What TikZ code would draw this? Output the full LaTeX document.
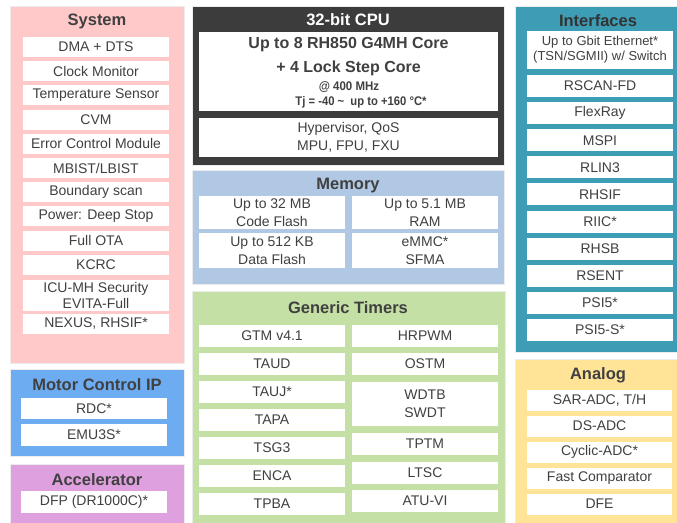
\documentclass[tikz,border=0pt]{standalone}
\usepackage{fontspec}
\setmainfont{Liberation Sans}
\usetikzlibrary{positioning}

\definecolor{syspink}{HTML}{FFC9C9}
\definecolor{motorblue}{HTML}{6EACF2}
\definecolor{accplum}{HTML}{DEA0DE}
\definecolor{cpudark}{HTML}{3C3C3C}
\definecolor{memblue}{HTML}{B0C8E4}
\definecolor{timgreen}{HTML}{C5E0A5}
\definecolor{ifteal}{HTML}{3C9DB5}
\definecolor{anayellow}{HTML}{FFE498}
\definecolor{txtgray}{HTML}{404040}

\tikzset{
  item/.style={fill=white, minimum width=146pt, minimum height=20pt, inner sep=0pt,
    align=center, text=txtgray, font=\fontsize{14}{18}\selectfont},
  paneltitle/.style={font=\fontsize{16.5}{18}\selectfont\bfseries, text=txtgray, inner sep=0pt},
  panel/.style={draw=gray!15, line width=0.6pt},
  cputext/.style={font=\fontsize{16}{18}\selectfont\bfseries, text=txtgray, inner sep=0pt},
  cpusmall/.style={font=\bfseries\fontsize{12.5}{14}\selectfont, text=txtgray, inner sep=0pt},
}

\begin{document}
\begin{tikzpicture}[x=1pt, y=-1pt]
    \useasboundingbox (0,0) rectangle (677,522);

    % System
    \draw[panel, fill=syspink] (10,6) rectangle (184,363);
    \node[paneltitle] (systitle) at (97,21) {System};
    \foreach \t [count=\i] in {DMA + DTS, Clock Monitor, Temperature Sensor, CVM,
        Error Control Module, MBIST/LBIST, Boundary scan, Power: Deep Stop, Full OTA, KCRC}
        \node[item] (sys\i) at (96,{47+24.2*(\i-1)}) {\t};
    \node[item, minimum height=31pt, font=\fontsize{14}{16}\selectfont] (sysicu) at (96,295.5) {ICU-MH Security\\EVITA-Full};
    \node[item] (sysnexus) at (96,324) {NEXUS, RHSIF*};

    % Motor Control IP
    \draw[panel, fill=motorblue] (10,369) rectangle (184,456);
    \node[paneltitle] (mottitle) at (97,385) {Motor Control IP};
    \node[item, minimum height=21pt] (motrdc) at (94,408.5) {RDC*};
    \node[item, minimum height=22pt] (motemu) at (94,435) {EMU3S*};

    % Accelerator
    \draw[panel, fill=accplum] (10,464) rectangle (184,525);
    \node[paneltitle] (acctitle) at (97,480) {Accelerator};
    \node[item, minimum height=22pt] (accdfp) at (94,502) {DFP (DR1000C)*};

    % 32-bit CPU
    \draw[panel, fill=cpudark] (192,6) rectangle (504,165);
    \node[paneltitle, text=white] (cputitle) at (348,20) {32-bit CPU};
    \node[item, minimum width=299pt, minimum height=79pt] (cpucore) at (348.5,71.5) {};
    \node[cputext] (cpuline1) at (348.5,45) {Up to 8 RH850 G4MH Core};
    \node[cputext] (cpuline2) at (348.5,68) {+ 4 Lock Step Core};
    \node[cpusmall] (cpufreq) at (349,87) {\scalebox{0.92}[1]{@ 400 MHz}};
    \node[cpusmall] (cputemp) at (361,102) {\scalebox{0.9}[1]{Tj = -40 \textasciitilde\ \ up to +160 °C*}};
    \node[item, minimum width=299pt, minimum height=39pt] (cpuext) at (348.5,137.5) {Hypervisor, QoS\\MPU, FPU, FXU};

    % Memory
    \draw[panel, fill=memblue] (192,170) rectangle (504,284);
    \node[paneltitle] (memtitle) at (348,186) {Memory};
    \node[item, minimum height=33pt] (memcode) at (272,212.5) {Up to 32 MB\\Code Flash};
    \node[item, minimum height=35pt] (memdata) at (272,250.5) {Up to 512 KB\\Data Flash};
    \node[item, minimum height=33pt] (memram) at (425,212.5) {Up to 5.1 MB\\RAM};
    \node[item, minimum height=35pt] (memsfma) at (425,250.5) {eMMC*\\SFMA};

    % Generic Timers
    \draw[panel, fill=timgreen] (192,291) rectangle (505,525);
    \node[paneltitle] (timtitle) at (348,308) {Generic Timers};
    \foreach \t [count=\i] in {GTM v4.1, TAUD, TAUJ*, TAPA, TSG3, ENCA, TPBA}
        \node[item, minimum height=22pt] (timl\i) at (272,{335.5+28*(\i-1)}) {\t};
    \node[item, minimum height=22pt] (timhrpwm) at (425,335.5) {HRPWM};
    \node[item, minimum height=22pt] (timostm) at (425,363.5) {OSTM};
    \node[item, minimum height=44pt] (timwdt) at (425,404) {WDTB\\SWDT};
    \node[item, minimum height=22pt] (timtptm) at (425,444) {TPTM};
    \node[item, minimum height=22pt] (timltsc) at (425,472.5) {LTSC};
    \node[item, minimum height=22pt] (timatu) at (425,500.5) {ATU-VI};

    % Interfaces
    \draw[panel, fill=ifteal] (515,6) rectangle (680,352);
    \node[paneltitle, text=black!80] (iftitle) at (598,21) {Interfaces};
    \node[item, minimum height=38pt, font=\fontsize{13}{15}\selectfont] (ifeth) at (600,50) {Up to Gbit Ethernet*\\(TSN/SGMII) w/ Switch};
    \foreach \t [count=\i] in {RSCAN-FD, FlexRay, MSPI, RLIN3, RHSIF, RIIC*, RHSB, RSENT, PSI5*, PSI5-S*}
        \node[item, minimum height=22pt] (if\i) at (600,{86+27.1*(\i-1)}) {\t};

    % Analog
    \draw[panel, fill=anayellow] (515,359) rectangle (680,525);
    \node[paneltitle] (anatitle) at (598,375) {Analog};
    \foreach \t [count=\i] in {{SAR-ADC, T/H}, DS-ADC, Cyclic-ADC*, Fast Comparator, DFE}
        \node[item, minimum width=145pt, minimum height=21pt] (ana\i) at (599.5,{400+26*(\i-1)}) {\t};
\end{tikzpicture}
\end{document}
